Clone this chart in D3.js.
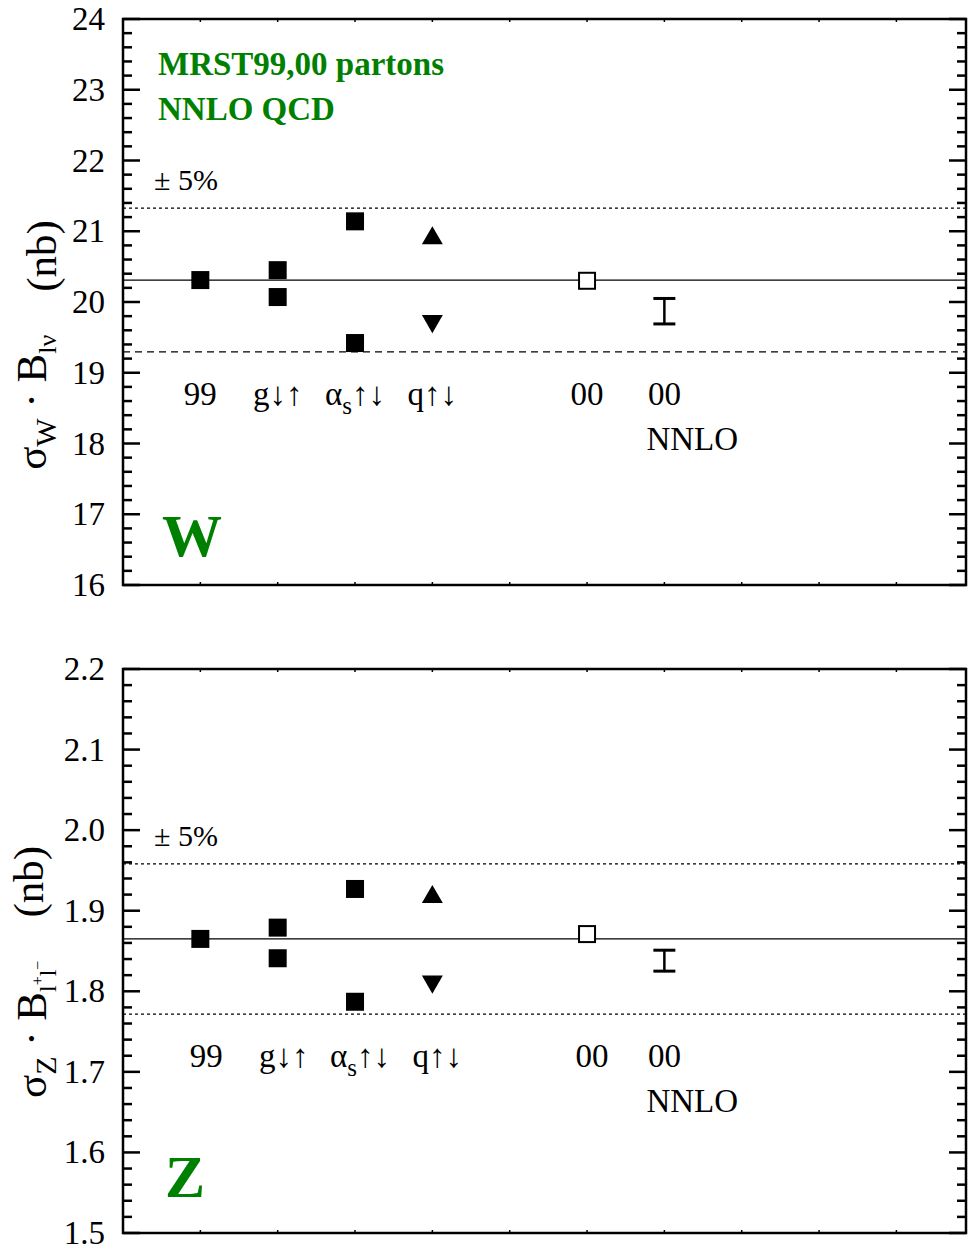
<!DOCTYPE html>
<html lang="en">
<head>
<meta charset="UTF-8">
<title>W and Z cross sections</title>
<script src="https://cdn.jsdelivr.net/npm/d3@7"></script>
<style>
  body { margin: 0; background: #fff; }
</style>
</head>
<body>
<div id="main_container"></div>
<script>

// x slots of the points (in units of the x scale)
var slots = [1, 2, 3, 4, 6, 7];
var slotLabels = ["99", "g\u2193\u2191", "as", "q\u2191\u2193", "00", "00"];

// W panel values (nb)
var wCentral = 20.31;
var wGluon = [20.45, 20.07];
var wAlphas = [21.14, 19.42];
var wQuarkUp = 20.90, wQuarkDown = 19.73;
var w00 = 20.30;
var wNNLO = [19.69, 20.05];

// Z panel values (nb)
var zCentral = 1.865;
var zGluon = [1.879, 1.841];
var zAlphas = [1.927, 1.787];
var zQuarkUp = 1.917, zQuarkDown = 1.812;
var z00 = 1.871;
var zNNLO = [1.825, 1.851];

var wTicks = [16, 17, 18, 19, 20, 21, 22, 23, 24];
var zTicks = [1.5, 1.6, 1.7, 1.8, 1.9, 2.0, 2.1, 2.2];

var FONT = "'Liberation Serif', 'DejaVu Serif', serif";
var svgWidth = 968, svgHeight = 1251;
var svg = d3.select("#main_container").append("svg")
    .attr("width", svgWidth)
    .attr("height", svgHeight)
    .attr("font-family", FONT);

var green = "#008000";

function drawPanel(cfg) {
    var g = svg.append("g");
    var x = d3.scaleLinear().domain([0, 10.9]).range([123, 966]);
    var y = d3.scaleLinear().domain(cfg.domain).range([cfg.bottom, cfg.top]);

    // minor + major ticks, left and right
    var minor = d3.range(cfg.domain[0], cfg.domain[1] + cfg.minorStep / 2, cfg.minorStep);
    minor.forEach(function(v) {
        var major = cfg.ticks.some(function(t) { return Math.abs(t - v) < cfg.minorStep / 4; });
        var len = major ? 17 : 9;
        g.append("line").attr("x1", 123).attr("x2", 123 + len)
            .attr("y1", y(v)).attr("y2", y(v))
            .attr("stroke", "#000").attr("stroke-width", 2.5);
        g.append("line").attr("x1", 966).attr("x2", 966 - len)
            .attr("y1", y(v)).attr("y2", y(v))
            .attr("stroke", "#000").attr("stroke-width", 2.5);
    });
    // small x ticks
    d3.range(1, 11).forEach(function(k) {
        g.append("line").attr("x1", x(k)).attr("x2", x(k))
            .attr("y1", cfg.top).attr("y2", cfg.top + 3).attr("stroke", "#000").attr("stroke-width", 1.5);
        g.append("line").attr("x1", x(k)).attr("x2", x(k))
            .attr("y1", cfg.bottom).attr("y2", cfg.bottom - 3).attr("stroke", "#000").attr("stroke-width", 1.5);
    });

    // frame
    g.append("rect").attr("x", 123).attr("y", cfg.top)
        .attr("width", 966 - 123).attr("height", cfg.bottom - cfg.top)
        .attr("fill", "none").attr("stroke", "#000").attr("stroke-width", 2.5);

    // tick labels
    g.selectAll(".ticklab").data(cfg.ticks).enter().append("text")
        .attr("x", 105).attr("y", function(d) { return y(d) + 11; })
        .attr("text-anchor", "end").attr("font-size", 33)
        .text(function(d) { return cfg.fmt(d); });

    // central line and +-5% band
    g.append("line").attr("x1", 123).attr("x2", 966)
        .attr("y1", y(cfg.central)).attr("y2", y(cfg.central))
        .attr("stroke", "#000").attr("stroke-width", 1.3);
    g.append("line").attr("x1", 123).attr("x2", 966)
        .attr("y1", y(cfg.central * 1.05)).attr("y2", y(cfg.central * 1.05))
        .attr("stroke", "#000").attr("stroke-width", 1.2).attr("stroke-dasharray", "3,3");
    g.append("line").attr("x1", 123).attr("x2", 966)
        .attr("y1", y(cfg.central * 0.95)).attr("y2", y(cfg.central * 0.95))
        .attr("stroke", "#000").attr("stroke-width", 1.2).attr("stroke-dasharray", cfg.lowDash);
    g.append("text").attr("x", 154).attr("y", y(cfg.central * 1.05) - 18)
        .attr("font-size", 30).text("\u00B1 5%");

    // filled squares
    var sq = [[slots[0], cfg.central]]
        .concat(cfg.gluon.map(function(v) { return [slots[1], v]; }))
        .concat(cfg.alphas.map(function(v) { return [slots[2], v]; }));
    g.selectAll(".sq").data(sq).enter().append("rect")
        .attr("x", function(d) { return x(d[0]) - 9; })
        .attr("y", function(d) { return y(d[1]) - 9; })
        .attr("width", 18).attr("height", 18).attr("fill", "#000");

    // triangles
    var tri = d3.symbol().type(d3.symbolTriangle).size(190);
    g.append("path").attr("d", tri)
        .attr("transform", "translate(" + x(slots[3]) + "," + y(cfg.qUp) + ")");
    g.append("path").attr("d", tri)
        .attr("transform", "translate(" + x(slots[3]) + "," + y(cfg.qDown) + ") rotate(180)");

    // open square
    g.append("rect").attr("x", x(slots[4]) - 8).attr("y", y(cfg.v00) - 8)
        .attr("width", 16).attr("height", 16)
        .attr("fill", "#fff").attr("stroke", "#000").attr("stroke-width", 2);

    // NNLO band
    var xn = x(slots[5]);
    g.append("line").attr("x1", xn).attr("x2", xn)
        .attr("y1", y(cfg.nnlo[0])).attr("y2", y(cfg.nnlo[1]))
        .attr("stroke", "#000").attr("stroke-width", 2.5);
    cfg.nnlo.forEach(function(v) {
        g.append("line").attr("x1", xn - 11).attr("x2", xn + 11)
            .attr("y1", y(v)).attr("y2", y(v))
            .attr("stroke", "#000").attr("stroke-width", 3);
    });

    // category labels
    slots.forEach(function(s, i) {
        var t = g.append("text").attr("x", x(s) + cfg.labShift[i]).attr("y", cfg.labY)
            .attr("text-anchor", "middle").attr("font-size", 33);
        if (slotLabels[i] === "as") {
            t.append("tspan").text("\u03B1");
            t.append("tspan").attr("font-size", 25).attr("dy", 9).text("s");
            t.append("tspan").attr("dy", -9).text("\u2191\u2193");
        } else {
            t.text(slotLabels[i]);
        }
    });
    g.append("text").attr("x", x(slots[5]) - 18).attr("y", cfg.labY + 45)
        .attr("font-size", 33).text("NNLO");

    // boson letter
    g.append("text").attr("x", cfg.bosonX).attr("y", cfg.bosonY)
        .attr("font-size", 60).attr("font-weight", "bold").attr("fill", green)
        .text(cfg.boson);

    // y axis title
    var yt = g.append("text")
        .attr("transform", "translate(" + 46 + "," + cfg.titleY + ") rotate(-90)")
        .attr("text-anchor", "middle").attr("font-size", 43);
    yt.append("tspan").text("\u03C3");
    yt.append("tspan").attr("font-size", 30).attr("dy", 10).text(cfg.sub1);
    yt.append("tspan").attr("dy", -10).text(" \u00B7 B");
    cfg.sub2(yt);
    yt.append("tspan").text("\u2002\u2002(nb)");

    return g;
}

drawPanel({
    domain: [16, 24], top: 19, bottom: 585, ticks: wTicks, minorStep: 0.2,
    fmt: function(d) { return d3.format("d")(d); },
    central: wCentral, gluon: wGluon, alphas: wAlphas, qUp: wQuarkUp, qDown: wQuarkDown,
    v00: w00, nnlo: wNNLO, lowDash: "7,5",
    labY: 405, labShift: [0, 0, 0, 0, 0, 0],
    boson: "W", bosonX: 162, bosonY: 556, titleY: 345, sub1: "W",
    sub2: function(t) {
        t.append("tspan").attr("font-size", 26).attr("dy", 10).text("l\u03BD");
        t.append("tspan").attr("font-size", 43).attr("dy", -10).text("");
    }
});

drawPanel({
    domain: [1.5, 2.2], top: 669, bottom: 1233, ticks: zTicks, minorStep: 0.02,
    fmt: function(d) { return d3.format(".1f")(d); },
    central: zCentral, gluon: zGluon, alphas: zAlphas, qUp: zQuarkUp, qDown: zQuarkDown,
    v00: z00, nnlo: zNNLO, lowDash: "3,3",
    labY: 1067, labShift: [6, 6, 5, 5, 5, 0],
    boson: "Z", bosonX: 165, bosonY: 1197, titleY: 972, sub1: "Z",
    sub2: function(t) {
        t.append("tspan").attr("font-size", 24).attr("dy", 10).text("l");
        t.append("tspan").attr("font-size", 16).attr("dy", -13).text("+");
        t.append("tspan").attr("font-size", 24).attr("dy", 13).text("l");
        t.append("tspan").attr("font-size", 16).attr("dy", -13).text("\u2212");
        t.append("tspan").attr("font-size", 43).attr("dy", 3).text("");
    }
});

// header text in the W panel
svg.append("text").attr("x", 158).attr("y", 75)
    .attr("font-size", 33).attr("font-weight", "bold").attr("fill", green)
    .text("MRST99,00 partons");
svg.append("text").attr("x", 158).attr("y", 120)
    .attr("font-size", 33).attr("font-weight", "bold").attr("fill", green)
    .text("NNLO QCD");

</script>
</body>
</html>
